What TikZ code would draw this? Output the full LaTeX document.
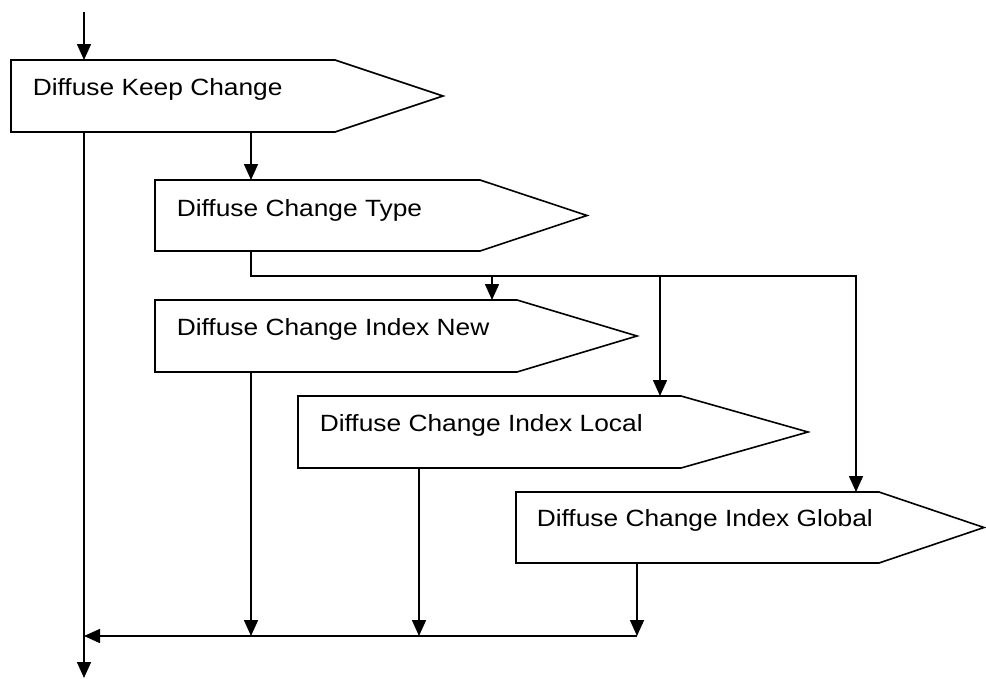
\documentclass[tikz,border=0pt]{standalone}
\usepackage{fontspec}
\setmainfont{Liberation Sans}[FakeStretch=1.12]
\usetikzlibrary{arrows.meta}
\begin{document}
\begin{tikzpicture}[x=1pt,y=-1pt,
  line width=1.6pt,
  rectpart/.style={draw=none,inner sep=0pt,outer sep=0pt,anchor=north west},
  lbl/.style={anchor=base west,inner sep=0pt,font=\fontsize{23.5}{28}\selectfont},
  arr/.style={-{Triangle[length=16pt,width=14pt]}}]
\useasboundingbox (0,0) rectangle (986,678);
% boxes (rectangular part as node, pointer drawn from its anchors)
\node[rectpart,minimum width=324,minimum height=72] (b1) at (11,60) {};
\node[rectpart,minimum width=325,minimum height=71] (b2) at (155,180) {};
\node[rectpart,minimum width=362,minimum height=72] (b3) at (155,300) {};
\node[rectpart,minimum width=383,minimum height=72] (b4) at (298,396) {};
\node[rectpart,minimum width=363,minimum height=71] (b5) at (516,492) {};
\draw (b1.north west) -- (b1.north east) -- ++(108,36) -- (b1.south east) -- (b1.south west) -- cycle;
\draw (b2.north west) -- (b2.north east) -- ++(107,35.5) -- (b2.south east) -- (b2.south west) -- cycle;
\draw (b3.north west) -- (b3.north east) -- ++(120,36) -- (b3.south east) -- (b3.south west) -- cycle;
\draw (b4.north west) -- (b4.north east) -- ++(127,36) -- (b4.south east) -- (b4.south west) -- cycle;
\draw (b5.north west) -- (b5.north east) -- ++(105,35.5) -- (b5.south east) -- (b5.south west) -- cycle;
% labels
\node[lbl] (t1) at ([xshift=21,yshift=-35]b1.north west) {Diffuse Keep Change};
\node[lbl] (t2) at ([xshift=21,yshift=-36]b2.north west) {Diffuse Change Type};
\node[lbl] (t3) at ([xshift=21,yshift=-35]b3.north west) {Diffuse Change Index New};
\node[lbl] (t4) at ([xshift=21,yshift=-35]b4.north west) {Diffuse Change Index Local};
\node[lbl] (t5) at ([xshift=20,yshift=-34]b5.north west) {Diffuse Change Index Global};
% helper coordinates
\coordinate (start) at (84,12);
\coordinate (finish) at (84,678);
\coordinate (bus) at (0,276);
\coordinate (merge) at (0,636);
% connectors
\draw[arr] (start) -- (start |- b1.north);
\draw[arr] ([xshift=96]b2.north west |- b1.south) -- ([xshift=96]b2.north west);
\draw[arr] ([xshift=96]b2.south west) |- ([xshift=340]b5.north west |- bus) -- ([xshift=340]b5.north west);
\draw[arr] ([xshift=337]b3.north west |- bus) -- ([xshift=337]b3.north west);
\draw[arr] ([xshift=362]b4.north west |- bus) -- ([xshift=362]b4.north west);
\draw[arr] (start |- b1.south) -- (finish);
\draw[arr] ([xshift=96]b3.south west) -- ([xshift=96]b3.south west |- merge);
\draw[arr] ([xshift=121]b4.south west) -- ([xshift=121]b4.south west |- merge);
\draw[arr] ([xshift=121]b5.south west) -- ([xshift=121]b5.south west |- merge);
\draw[arr] ([xshift=121]b5.south west |- merge) -- (finish |- merge);
\end{tikzpicture}
\end{document}
